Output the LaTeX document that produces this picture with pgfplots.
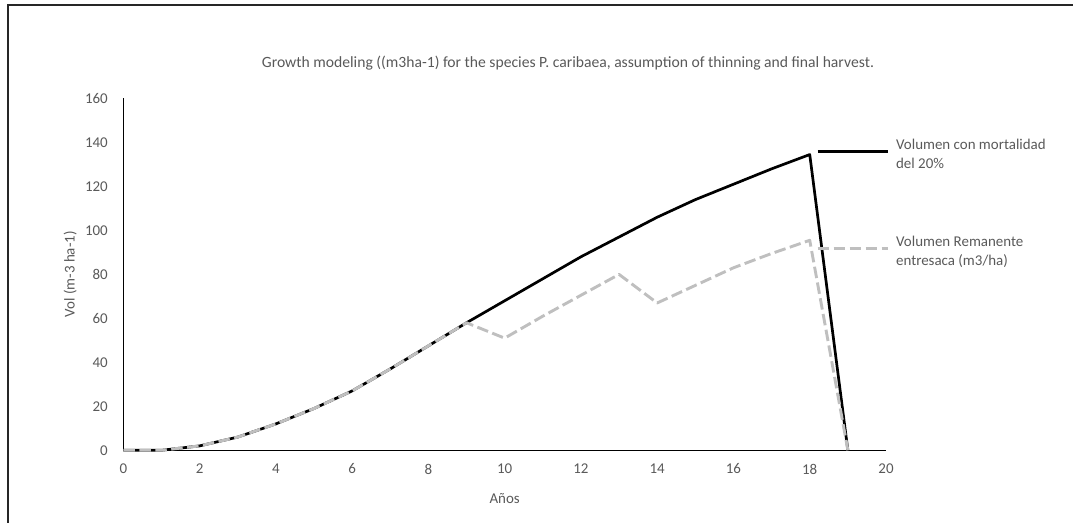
\documentclass[border=0pt]{standalone}
\usepackage{pgfplots}
\pgfplotsset{compat=1.18}
\usepackage{fontspec}
\setmainfont{Carlito}
\definecolor{txt}{RGB}{89,89,89}
\definecolor{lgray}{RGB}{191,191,191}
\begin{document}
\begin{tikzpicture}[x=1bp,y=1bp]
\useasboundingbox (-123.3,-72.7) rectangle (949.7,450.3);
\draw[line width=1.5bp,black!85] (-115.3,-75) -- (-115.3,445.3) -- (952,445.3);
\begin{axis}[
  at={(0,0)}, anchor=origin,
  scale only axis, width=762.7bp, height=351.8bp,
  xmin=0, xmax=20, ymin=0, ymax=160,
  xtick={0,2,...,20}, ytick={0,20,...,160},
  axis x line=bottom, axis y line=left,
  axis line style={-, line width=1.3bp, black},
  major tick length=0pt,
  tick label style={font=\fontsize{15}{18}\selectfont, text=txt},
  xticklabel style={yshift=-10bp},
  yticklabel style={xshift=-12bp},
  /pgf/number format/assume math mode=true,
  xlabel={Años}, ylabel={Vol (m-3 ha-1)},
  label style={font=\fontsize{15}{18}\selectfont, text=txt},
  xlabel style={at={(axis description cs:0.5,0)}, anchor=north, yshift=-40bp},
  ylabel style={at={(axis description cs:0,0.5)}, yshift=43bp},
  clip=false,
  legend style={draw=none, fill=none, at={(axis cs:18.086,142.6)}, anchor=north west,
    font=\fontsize{15}{19}\selectfont, text=txt, row sep=66bp,
    nodes={align=left, inner sep=0pt}, column sep=7bp},
  legend cell align=left,
  legend image code/.code={\draw[#1] (0bp,0.3em) -- (70bp,0.3em);},
]
\addplot[black, line width=2.7bp, line join=round] coordinates {
(0,0) (1,0) (2,2) (3,6) (4,12) (5,19) (6,27) (7,37) (8,47.5) (9,58)
(10,68) (11,78) (12,88) (13,97) (14,106) (15,114) (16,121) (17,128) (18,134.5) (19,0)};
\addlegendentry{Volumen con mortalidad\\del 20\%}
\addplot[lgray, line width=2.9bp, dash pattern=on 11.5bp off 4.5bp, line join=round] coordinates {
(0,0) (1,0) (2,2) (3,6) (4,12) (5,19) (6,27) (7,37) (8,47.5) (9,58)
(10,51) (11,61) (12,70.5) (13,80) (14,67) (15,75) (16,83) (17,89.5) (18,95.5) (19,0)};
\addlegendentry{Volumen Remanente\\entresaca (m3/ha)}
\end{axis}
\node[font=\fontsize{15.7}{18}\selectfont, text=txt] at (568-123.3, 450.3-63.5) {Growth modeling ((m3ha-1) for the species P. caribaea, assumption of thinning and final harvest.};
\end{tikzpicture}
\end{document}
